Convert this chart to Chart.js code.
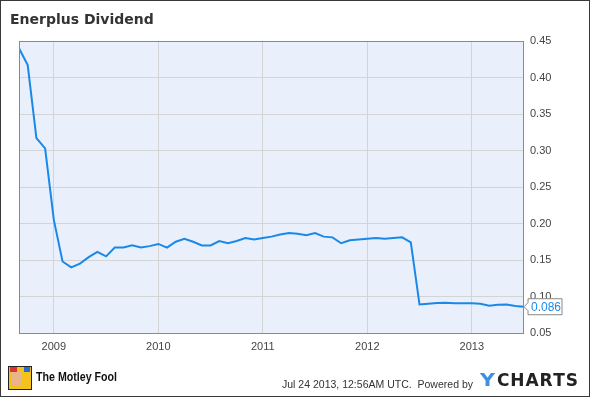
<!DOCTYPE html>
<html>
<head>
    <title>Enerplus Dividend</title>
    <script src="https://cdn.jsdelivr.net/npm/chart.js"></script>
    <style>
        body { margin: 0; background: #fff; }
        #wrap { width: 590px; height: 397px; }
    </style>
</head>
<body>
    <div id="wrap"><canvas id="divChart" width="590" height="397"></canvas></div>

    <script>
        // monthly dividend points, Sep 2008 .. Jul 2013
        const months = [
            '2008-09', '2008-10', '2008-11', '2008-12',
            '2009-01', '2009-02', '2009-03', '2009-04', '2009-05', '2009-06',
            '2009-07', '2009-08', '2009-09', '2009-10', '2009-11', '2009-12',
            '2010-01', '2010-02', '2010-03', '2010-04', '2010-05', '2010-06',
            '2010-07', '2010-08', '2010-09', '2010-10', '2010-11', '2010-12',
            '2011-01', '2011-02', '2011-03', '2011-04', '2011-05', '2011-06',
            '2011-07', '2011-08', '2011-09', '2011-10', '2011-11', '2011-12',
            '2012-01', '2012-02', '2012-03', '2012-04', '2012-05', '2012-06',
            '2012-07', '2012-08', '2012-09', '2012-10', '2012-11', '2012-12',
            '2013-01', '2013-02', '2013-03', '2013-04', '2013-05', '2013-06',
            '2013-07'
        ];
        const dividend = [
            0.440, 0.417, 0.317, 0.303,
            0.205, 0.148, 0.140, 0.145, 0.154, 0.161,
            0.155, 0.167, 0.167, 0.170, 0.167, 0.169,
            0.172, 0.167, 0.175, 0.179, 0.175, 0.170,
            0.170, 0.176, 0.173, 0.176, 0.180, 0.178,
            0.180, 0.182, 0.185, 0.187, 0.186, 0.184,
            0.187, 0.182, 0.181, 0.173, 0.177, 0.178,
            0.179, 0.180, 0.179, 0.180, 0.181, 0.174,
            0.089, 0.090, 0.091, 0.0915, 0.0907, 0.0907,
            0.0907, 0.090, 0.0874, 0.0888, 0.089, 0.087,
            0.086
        ];
        const yearTicks = [2009, 2010, 2011, 2012, 2013];
        const lastLabel = '0.086';

        function toYear(m) {
            const p = m.split('-');
            return Number(p[0]) + (Number(p[1]) - 1) / 12;
        }
        const points = months.map((m, i) => ({ x: toYear(m), y: dividend[i] }));

        // draw text squeezed/stretched to a given width
        function fitText(c, txt, x, y, w) {
            const mw = c.measureText(txt).width;
            c.save();
            c.translate(x, y);
            c.scale(w / mw, 1);
            c.fillText(txt, 0, 0);
            c.restore();
        }

        const frame = {
            id: 'frame',
            beforeDraw(chart) {
                const c = chart.ctx, a = chart.chartArea;
                c.save();
                c.fillStyle = '#fff';
                c.fillRect(0, 0, chart.width, chart.height);
                c.fillStyle = '#e9f0fb';
                c.fillRect(a.left, a.top, a.right - a.left, a.bottom - a.top);
                c.restore();
            },
            afterDraw(chart) {
                const c = chart.ctx, a = chart.chartArea;
                c.save();
                // plot border
                c.strokeStyle = '#8a8a8a';
                c.lineWidth = 1;
                c.strokeRect(a.left + 0.5, a.top + 0.5, a.right - a.left - 1, a.bottom - a.top);
                // outer border
                c.strokeStyle = '#3a3a3a';
                c.strokeRect(0.5, 0.5, chart.width - 1, chart.height - 1);

                // title
                c.fillStyle = '#333';
                c.font = 'bold 14px "DejaVu Sans"';
                c.textBaseline = 'middle';
                c.fillText('Enerplus Dividend', 10, 20);

                // last value tag
                const meta = chart.getDatasetMeta(0);
                const pt = meta.data[meta.data.length - 1];
                const bx = pt.x + 4, by = pt.y - 8;
                c.fillStyle = '#fff';
                c.strokeStyle = '#888';
                c.beginPath();
                c.moveTo(pt.x, pt.y);
                c.lineTo(bx, by + 4);
                c.lineTo(bx, by);
                c.lineTo(bx + 34, by);
                c.lineTo(bx + 34, by + 16);
                c.lineTo(bx, by + 16);
                c.lineTo(bx, by + 12);
                c.closePath();
                c.fill();
                c.stroke();
                c.fillStyle = '#1f8ae6';
                c.font = '12px "Liberation Sans"';
                c.fillText(lastLabel, bx + 3, pt.y + 0.5);

                // footer: logo
                c.fillStyle = '#f3c21b';
                c.fillRect(8, 366, 24, 24);
                c.fillStyle = '#e8b48a';
                c.fillRect(12, 372, 10, 14);
                c.fillStyle = '#d33';
                c.fillRect(10, 367, 7, 5);
                c.fillStyle = '#2a6bd1';
                c.fillRect(24, 367, 6, 5);
                c.strokeStyle = '#222';
                c.strokeRect(8.5, 366.5, 23, 23);
                c.fillStyle = '#111';
                c.font = 'bold 13px "Liberation Sans"';
                fitText(c, 'The Motley Fool', 36, 377, 81);

                // footer: timestamp and ycharts
                c.fillStyle = '#333';
                c.font = '11px "Liberation Sans"';
                fitText(c, 'Jul 24 2013, 12:56AM UTC.  Powered by', 282, 385, 191);
                c.font = 'bold 17px "DejaVu Sans"';
                c.fillStyle = '#3f8fe3';
                fitText(c, 'Y', 480, 382, 15);
                c.fillStyle = '#222';
                const word = 'CHARTS';
                const total = word.split('').reduce((s, ch) => s + c.measureText(ch).width, 0);
                const gap = (81 - total) / (word.length - 1);
                let x = 497;
                for (const ch of word) {
                    c.fillText(ch, x, 382);
                    x += c.measureText(ch).width + gap;
                }
                c.restore();
            }
        };

        const ctx = document.getElementById('divChart').getContext('2d');
        const divChart = new Chart(ctx, {
            type: 'line',
            data: {
                datasets: [{
                    label: 'Dividend',
                    data: points,
                    borderColor: '#1a88e8',
                    borderWidth: 2,
                    pointRadius: 0,
                    tension: 0,
                    fill: false
                }]
            },
            options: {
                responsive: false,
                animation: false,
                layout: { padding: { left: 19, top: 41, right: 0, bottom: 0 } },
                plugins: {
                    legend: { display: false },
                    tooltip: { enabled: false }
                },
                scales: {
                    x: {
                        type: 'linear',
                        min: toYear(months[0]),
                        max: toYear(months[months.length - 1]),
                        afterBuildTicks(scale) {
                            scale.ticks = yearTicks.map(v => ({ value: v }));
                        },
                        afterFit(scale) { scale.height = 64; },
                        grid: { color: '#d4d4d4', drawTicks: false },
                        border: { display: false },
                        ticks: {
                            padding: 7,
                            color: '#444',
                            font: { family: 'Liberation Sans', size: 11 },
                            maxRotation: 0,
                            callback: v => String(v)
                        }
                    },
                    y: {
                        position: 'right',
                        min: 0.05,
                        max: 0.45,
                        afterFit(scale) { scale.width = 66; },
                        grid: { color: '#d4d4d4', drawTicks: false },
                        border: { display: false },
                        ticks: {
                            stepSize: 0.05,
                            padding: 6,
                            color: '#444',
                            font: { family: 'Liberation Sans', size: 11 },
                            callback: v => v.toFixed(2)
                        }
                    }
                }
            },
            plugins: [frame]
        });
    </script>
</body>
</html>
